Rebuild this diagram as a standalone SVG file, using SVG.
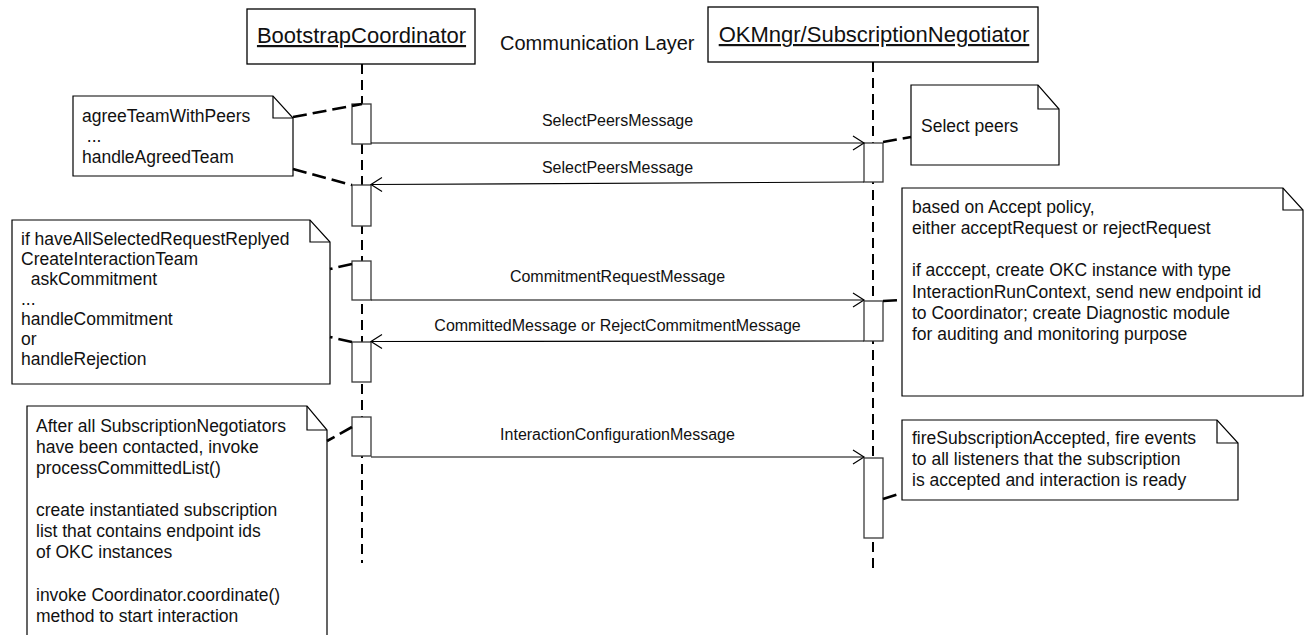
<svg xmlns="http://www.w3.org/2000/svg" width="1306" height="635" viewBox="0 0 1306 635">
<defs>
<style>
text{font-family:"Liberation Sans",Arial,sans-serif;fill:#111}
.head{fill:#fff;stroke:#000;stroke-width:1.3}
.ht{font-size:22px;text-anchor:middle;text-decoration:underline}
.life{stroke:#000;stroke-width:2;stroke-dasharray:10 6;fill:none}
.act{fill:#fff;stroke:#3a3a3a;stroke-width:1.3}
.note{fill:#fff;stroke:#000;stroke-width:1.2}
.fold{fill:none;stroke:#000;stroke-width:1.2}
.nt{font-size:17.5px}
.msg{stroke:#000;stroke-width:1.2;fill:none;marker-end:url(#open)}
.ml{font-size:16px;text-anchor:middle}
.anchor{stroke:#000;stroke-width:2.6;stroke-dasharray:14 6;fill:none}
</style>
<marker id="open" markerUnits="userSpaceOnUse" markerWidth="14" markerHeight="16" refX="12" refY="8" orient="auto">
<path d="M1,1 L12,8 L1,15" fill="none" stroke="#000" stroke-width="1.2"/>
</marker>
</defs>
<rect width="1306" height="635" fill="#fff"/>

<g id="lifeline-bootstrap">
<line class="life" x1="362" y1="64" x2="362" y2="563"/>
<rect class="act" x="352" y="104" width="19" height="40"/>
<rect class="act" x="352" y="185" width="19" height="41"/>
<rect class="act" x="352" y="261" width="19" height="39"/>
<rect class="act" x="352" y="342" width="19" height="40"/>
<rect class="act" x="352" y="417" width="19" height="39"/>
</g>
<g id="lifeline-okmngr">
<line class="life" x1="873" y1="62" x2="873" y2="569"/>
<rect class="act" x="864" y="143" width="19" height="39"/>
<rect class="act" x="864" y="301" width="19" height="40"/>
<rect class="act" x="864" y="458" width="19" height="80"/>
</g>

<g id="head-bootstrap">
<rect class="head" x="247" y="9" width="228" height="55"/>
<text class="ht" x="361.5" y="43">BootstrapCoordinator</text>
</g>
<g id="label-communication-layer">
<text x="500" y="50" font-size="20">Communication Layer</text>
</g>
<g id="head-okmngr">
<rect class="head" x="708" y="7" width="330" height="55"/>
<text class="ht" x="874" y="42">OKMngr/SubscriptionNegotiator</text>
</g>

<g id="note-agree">
<path class="note" d="M73,96 H273 L293,118 V176 H73 Z"/>
<path class="fold" d="M273,96 V118 H293"/>
<text class="nt"><tspan x="82" y="122">agreeTeamWithPeers</tspan><tspan x="82" y="142">&#160;...</tspan><tspan x="82" y="163">handleAgreedTeam</tspan></text>
</g>
<g id="note-select-peers">
<path class="note" d="M911,85 H1038 L1059,109 V165 H911 Z"/>
<path class="fold" d="M1038,85 V109 H1059"/>
<text class="nt" x="921" y="132">Select peers</text>
</g>
<g id="note-accept-policy">
<path class="note" d="M902,188 H1283 L1303,210 V396 H902 Z"/>
<path class="fold" d="M1283,188 V210 H1303"/>
<text class="nt"><tspan x="912" y="212.5">based on Accept policy,</tspan><tspan x="912" y="233.8">either acceptRequest or rejectRequest</tspan><tspan x="912" y="276.4">if acccept, create OKC instance with type</tspan><tspan x="912" y="297.7">InteractionRunContext, send new endpoint id</tspan><tspan x="912" y="319">to Coordinator; create Diagnostic module</tspan><tspan x="912" y="340.3">for auditing and monitoring purpose</tspan></text>
</g>
<g id="note-fire-accepted">
<path class="note" d="M902,420 H1217 L1238,443 V500 H902 Z"/>
<path class="fold" d="M1217,420 V443 H1238"/>
<text class="nt"><tspan x="912" y="443.5">fireSubscriptionAccepted, fire events</tspan><tspan x="912" y="464.5">to all listeners that the subscription</tspan><tspan x="912" y="485.5">is accepted and interaction is ready</tspan></text>
</g>
<g id="note-commitment">
<path class="note" d="M12,220 H310 L330,242 V384 H12 Z"/>
<path class="fold" d="M310,220 V242 H330"/>
<text class="nt"><tspan x="21" y="245">if haveAllSelectedRequestReplyed</tspan><tspan x="21" y="265">CreateInteractionTeam</tspan><tspan x="21" y="285">&#160;&#160;askCommitment</tspan><tspan x="21" y="305">...</tspan><tspan x="21" y="325">handleCommitment</tspan><tspan x="21" y="345">or</tspan><tspan x="21" y="365">handleRejection</tspan></text>
</g>
<g id="note-committed-list">
<path class="note" d="M27,406 H307 L327,430 V640 H27 Z"/>
<path class="fold" d="M307,406 V430 H327"/>
<text class="nt"><tspan x="36" y="431.7">After all SubscriptionNegotiators</tspan><tspan x="36" y="452.8">have been contacted, invoke</tspan><tspan x="36" y="473.9">processCommittedList()</tspan><tspan x="36" y="516.1">create instantiated subscription</tspan><tspan x="36" y="537.2">list that contains endpoint ids</tspan><tspan x="36" y="558.3">of OKC instances</tspan><tspan x="36" y="600.5">invoke Coordinator.coordinate()</tspan><tspan x="36" y="621.6">method to start interaction</tspan></text>
</g>

<g id="connectors">
<line class="msg" x1="371" y1="143" x2="864" y2="143"/>
<text class="ml" x="617.5" y="126">SelectPeersMessage</text>
<line class="msg" x1="864" y1="182" x2="371" y2="184.5"/>
<text class="ml" x="617.5" y="173">SelectPeersMessage</text>
<line class="msg" x1="371" y1="300" x2="864" y2="300"/>
<text class="ml" x="617.5" y="282">CommitmentRequestMessage</text>
<line class="msg" x1="864" y1="341" x2="371" y2="341.5"/>
<text class="ml" x="617.5" y="331">CommittedMessage or RejectCommitmentMessage</text>
<line class="msg" x1="371" y1="457" x2="864" y2="457"/>
<text class="ml" x="617.5" y="440">InteractionConfigurationMessage</text>

<line class="anchor" x1="293" y1="117" x2="362" y2="104"/>
<line class="anchor" x1="293" y1="169" x2="352" y2="185"/>
<line class="anchor" x1="883" y1="142" x2="911" y2="137"/>
<line class="anchor" x1="883" y1="301" x2="902" y2="300"/>
<line class="anchor" x1="883" y1="499" x2="902" y2="493"/>
<line class="anchor" x1="352" y1="264" x2="330" y2="269"/>
<line class="anchor" x1="352" y1="342" x2="330" y2="337"/>
<line class="anchor" x1="352" y1="427" x2="327" y2="441"/>
</g>
</svg>
